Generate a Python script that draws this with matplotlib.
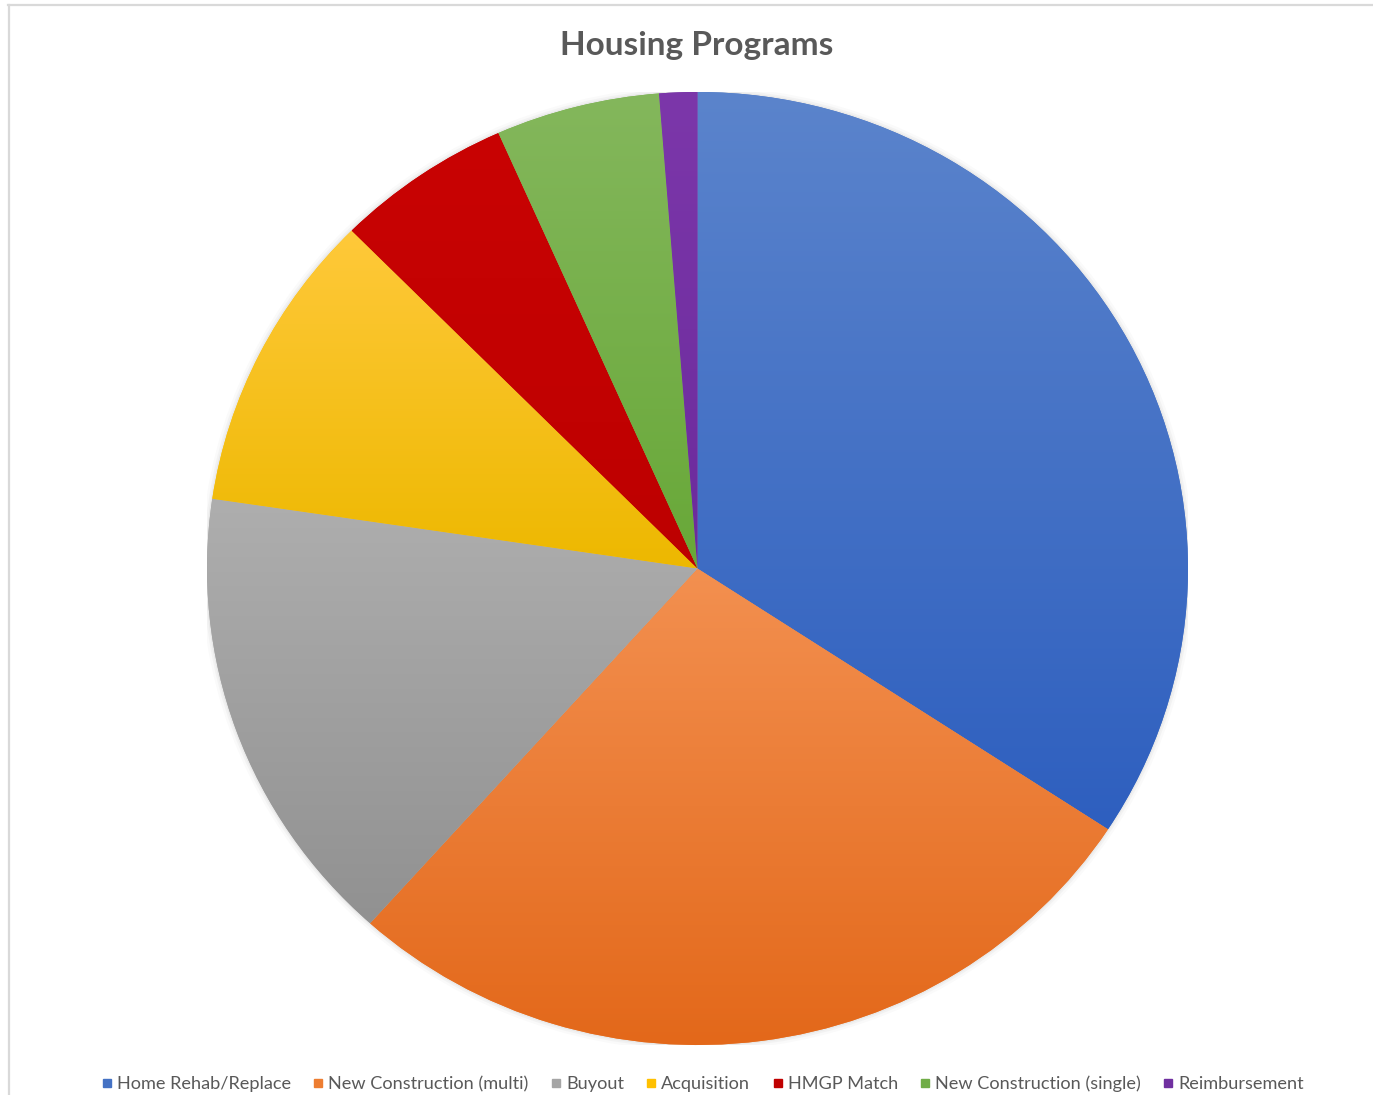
import numpy as np
import matplotlib
matplotlib.use("Agg")
import matplotlib.pyplot as plt
from matplotlib.colors import to_rgb
from matplotlib.lines import Line2D
from matplotlib.patches import Ellipse

plt.rcParams['font.family'] = ['Lato', 'DejaVu Sans']

programs = ['Home Rehab/Replace', 'New Construction (multi)', 'Buyout', 'Acquisition',
            'HMGP Match', 'New Construction (single)', 'Reimbursement']
shares = [34.2, 27.4, 15.7, 10.2, 5.8, 5.4, 1.25]

# gradient stops (top, bottom) per slice, Office-style fill
top_colors = ['#5B84CC', '#F39050', '#AEAEAE', '#FFC93A', '#C90303', '#84B75C', '#7C37AA']
bottom_colors = ['#2E5FBF', '#E3681A', '#919191', '#EDB800', '#BD0000', '#68A838', '#6B2B9C']
legend_colors = ['#4472C4', '#ED7D31', '#A5A5A5', '#FFC000', '#C00000', '#70AD47', '#7030A0']

fig = plt.figure(figsize=(13.73, 10.95), dpi=100)

# chart frame (top and left edges visible)
fig.add_artist(Line2D([8 / 1373, 1], [1 - 4.5 / 1095, 1 - 4.5 / 1095], color='#D9D9D9', lw=1.6))
fig.add_artist(Line2D([8.5 / 1373, 8.5 / 1373], [0, 1 - 4.5 / 1095], color='#D9D9D9', lw=1.6))

ax = fig.add_axes([207 / 1373, 50 / 1095, 981 / 1373, 953 / 1095])

# soft shadow behind the pie
for k, a in [(1.012, 0.04), (1.007, 0.06), (1.003, 0.08)]:
    ax.add_patch(Ellipse((0, 0), 2 * k, 2 * k, color='#808080', alpha=a, lw=0, zorder=0))

wedges, _ = ax.pie(shares, colors=legend_colors, startangle=90, counterclock=False,
                   wedgeprops=dict(linewidth=0))

for w, ct, cb in zip(wedges, top_colors, bottom_colors):
    x0, y0, x1, y1 = w.get_path().get_extents().extents
    top = np.array(to_rgb(ct))
    bot = np.array(to_rgb(cb))
    t = np.linspace(0, 1, 256)[:, None]
    grad = (top[None, :] * (1 - t) + bot[None, :] * t)[:, None, :]
    im = ax.imshow(grad, extent=[x0, x1, y0, y1], origin='upper', aspect='auto',
                   interpolation='bilinear', zorder=2)
    im.set_clip_path(w)

ax.set_xlim(-1, 1)
ax.set_ylim(-1, 1)
ax.set_aspect('auto')
ax.axis('off')

fig.text(697 / 1373, 1 - 45 / 1095, 'Housing Programs', ha='center', va='center',
         fontsize=24, fontweight='bold', color='#595959')

handles = [Line2D([], [], marker='s', linestyle='none', markersize=6,
                  markerfacecolor=c, markeredgecolor=c) for c in legend_colors]
fig.legend(handles, programs, loc='center', bbox_to_anchor=(701 / 1373, 11 / 1095),
           ncol=7, frameon=False, fontsize=13.1, handletextpad=0.05,
           columnspacing=1.0, handlelength=1.0, labelcolor='#595959')

fig.savefig('out.png', dpi=100)
